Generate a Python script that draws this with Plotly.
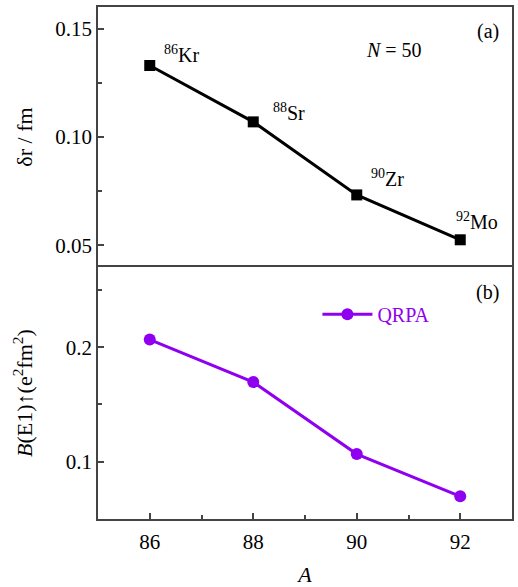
import plotly.graph_objects as go
from plotly.subplots import make_subplots

A = [86, 88, 90, 92]
delta_r = [0.133, 0.107, 0.0733, 0.0526]
b_e1 = [0.2067, 0.1696, 0.1067, 0.0698]
nuclei = ["<sup>86</sup>Kr", "<sup>88</sup>Sr", "<sup>90</sup>Zr", "<sup>92</sup>Mo"]
# label anchor positions (data coords) for nucleus names
label_x = [86.24, 88.34, 90.24, 91.87]
label_y = [0.1383, 0.1114, 0.0813, 0.0614]

FONT = "Liberation Serif"
PURPLE = "#9000F0"
AXC = "#444444"

fig = make_subplots(rows=2, cols=1, shared_xaxes=True, vertical_spacing=0,
                    row_heights=[0.508, 0.492])

fig.add_trace(go.Scatter(x=A, y=delta_r, mode="lines+markers",
                         line=dict(color="black", width=3),
                         marker=dict(symbol="square", size=11, color="black"),
                         showlegend=False), row=1, col=1)
fig.add_trace(go.Scatter(x=A, y=b_e1, mode="lines+markers", name="QRPA",
                         line=dict(color=PURPLE, width=3),
                         marker=dict(symbol="circle", size=12, color=PURPLE),
                         showlegend=True), row=2, col=1)

for t, lx, ly in zip(nuclei, label_x, label_y):
    fig.add_annotation(x=lx, y=ly, xref="x", yref="y", text=t, showarrow=False,
                       xanchor="left", yanchor="middle",
                       font=dict(family=FONT, size=20, color="black"))

fig.add_annotation(x=90.72, y=0.1401, xref="x", yref="y", text="<i>N</i> = 50",
                   showarrow=False, xanchor="center", yanchor="middle",
                   font=dict(family=FONT, size=20, color="black"))
fig.add_annotation(x=92.78, y=0.1485, xref="x", yref="y", text="(a)",
                   showarrow=False, xanchor="right", yanchor="middle",
                   font=dict(family=FONT, size=20, color="black"))
fig.add_annotation(x=92.78, y=0.248, xref="x2", yref="y2", text="(b)",
                   showarrow=False, xanchor="right", yanchor="middle",
                   font=dict(family=FONT, size=20, color="black"))

tickfont = dict(family=FONT, size=21, color="black")

fig.update_xaxes(range=[85, 93], dtick=2, tick0=86, ticks="inside", ticklen=6,
                 tickcolor=AXC, tickwidth=1.5, ticklabelstandoff=3,
                 minor=dict(dtick=1, ticks="inside", ticklen=4, tickcolor=AXC),
                 showline=True, linecolor=AXC, linewidth=1.5, mirror=True,
                 showgrid=False, zeroline=False, tickfont=tickfont, automargin=False,
                 title=dict(text="<i>A</i>", font=dict(family=FONT, size=22, color="black"), standoff=20),
                 row=2, col=1)
fig.update_xaxes(range=[85, 93], ticks="", showticklabels=False, side="top",
                 showline=True, linecolor=AXC, linewidth=1.5, mirror=False,
                 showgrid=False, zeroline=False, automargin=False, row=1, col=1)

fig.update_yaxes(range=[0.04, 0.16], dtick=0.05, tick0=0.05, tickformat=".2f",
                 ticks="inside", ticklen=6, tickcolor=AXC, tickwidth=1.5,
                 minor=dict(dtick=0.025, ticks="inside", ticklen=4, tickcolor=AXC),
                 showline=True, linecolor=AXC, linewidth=1.5, mirror=True,
                 showgrid=False, zeroline=False, tickfont=tickfont, automargin=False,
                 title=dict(text="δr / fm", font=dict(family=FONT, size=22, color="black"), standoff=17),
                 row=1, col=1)
fig.update_yaxes(range=[0.05, 0.27], dtick=0.1, tick0=0.1, tickformat=".1f",
                 ticks="inside", ticklen=6, tickcolor=AXC, tickwidth=1.5,
                 minor=dict(dtick=0.05, ticks="inside", ticklen=4, tickcolor=AXC),
                 showline=True, linecolor=AXC, linewidth=1.5, mirror=True,
                 showgrid=False, zeroline=False, tickfont=tickfont, automargin=False,
                 title=dict(text="<i>B</i>(E1)↑(e<sup>2</sup>fm<sup>2</sup>)",
                            font=dict(family=FONT, size=22, color="black"), standoff=27),
                 row=2, col=1)

fig.update_layout(width=518, height=587, margin=dict(l=98, r=6, t=7, b=68),
                  paper_bgcolor="white", plot_bgcolor="white",
                  font=dict(family=FONT, color="black"),
                  legend=dict(x=0.53, y=0.40, xanchor="left", yanchor="middle",
                              bgcolor="rgba(0,0,0,0)", itemwidth=50,
                              font=dict(family=FONT, size=20, color=PURPLE)))

fig.write_html("out.html")
